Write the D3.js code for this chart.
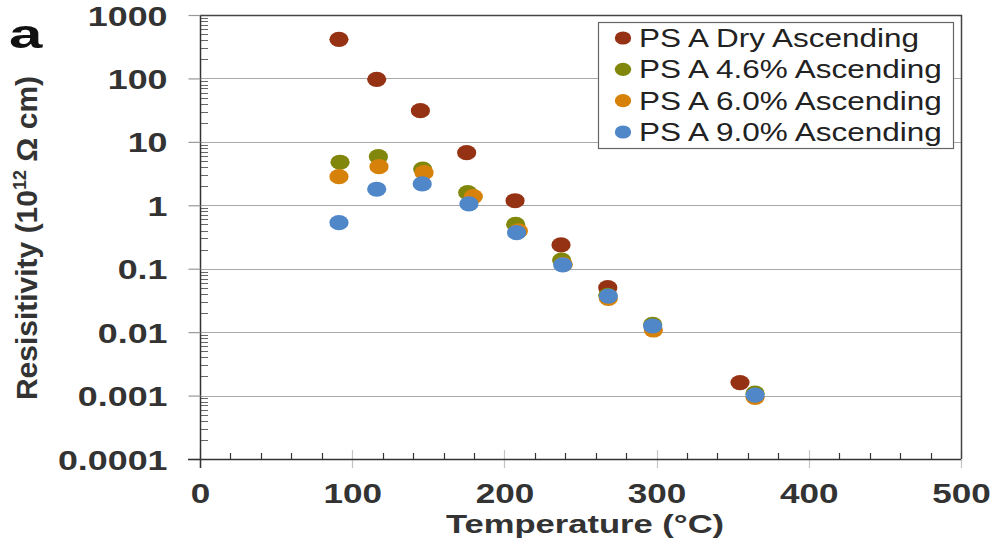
<!DOCTYPE html>
<html><head><meta charset="utf-8">
<script src="https://cdn.jsdelivr.net/npm/d3@7"></script>
<style>body{margin:0;background:#fff}svg{display:block}</style>
</head><body>
<svg id="c" width="995" height="550"></svg>
<script>
// ---- data ----
const seriesNames = ["PS A Dry Ascending","PS A 4.6% Ascending","PS A 6.0% Ascending","PS A 9.0% Ascending"];
const tempDry = [91.3,116.1,144.8,175.2,207,237.2,267.9,354.8];
const resDry  = [414,96.9,31,6.75,1.18,0.237,0.0503,0.0016];
const temp46  = [92,117.2,146.3,175.9,207.4,237.6,267.9,297.4,364.7];
const res46   = [4.77,5.84,3.73,1.58,0.50,0.137,0.038,0.0133,0.00109];
const temp60  = [91.3,117.6,147.2,179.6,209.2,238.7,268.3,297.9,364.7];
const res60   = [2.83,4.06,3.27,1.37,0.394,0.117,0.034,0.0108,0.00094];
const temp90  = [91.3,116.1,146,176.7,208,238.3,268.3,297.4,364.7];
const res90   = [0.532,1.79,2.17,1.05,0.37,0.115,0.037,0.0125,0.00102];
const xTicks = [0,100,200,300,400,500];
const yTicks = [0.0001,0.001,0.01,0.1,1,10,100,1000];
const yTickLabels = ["0.0001","0.001","0.01","0.1","1","10","100","1000"];
const colors = ["#963214","#80870a","#d6820a","#5087c8"];

const series = [
  {name:seriesNames[0], t:tempDry, r:resDry, c:colors[0]},
  {name:seriesNames[1], t:temp46, r:res46, c:colors[1]},
  {name:seriesNames[2], t:temp60, r:res60, c:colors[2]},
  {name:seriesNames[3], t:temp90, r:res90, c:colors[3]}
];

const FONT = "'Liberation Sans', Arial, sans-serif";
const svg = d3.select("#c");
const X0=200, X1=961, Y0=459, Y1=15;
const x = d3.scaleLinear().domain([0,500]).range([X0,X1]);
const y = d3.scaleLog().domain([0.0001,1000]).range([Y0,Y1]);

// gridlines
svg.append("g").selectAll("line").data(yTicks.slice(1,-1)).join("line")
  .attr("x1",X0).attr("x2",X1)
  .attr("y1",d=>Math.round(y(d))+0.5).attr("y2",d=>Math.round(y(d))+0.5)
  .attr("stroke","#a8a8a8").attr("stroke-width",1.2);

// x major ticks (light, crossing axis)
svg.append("g").selectAll("line").data(xTicks).join("line")
  .attr("x1",d=>Math.round(x(d))+0.5).attr("x2",d=>Math.round(x(d))+0.5)
  .attr("y1",Y0-9).attr("y2",Y0+9).attr("stroke","#c4c4c4").attr("stroke-width",1.2);

// x minor ticks
const xMinor = d3.range(20,500,20).filter(v=>v%100!==0);
svg.append("g").selectAll("line").data(xMinor).join("line")
  .attr("x1",d=>Math.round(x(d))+0.5).attr("x2",d=>Math.round(x(d))+0.5)
  .attr("y1",Y0-6).attr("y2",Y0).attr("stroke","#333").attr("stroke-width",1.2);

// y minor ticks
const yMinor = [];
yTicks.slice(0,-1).forEach(d=>{for(let k=2;k<=9;k++) yMinor.push(d*k);});
svg.append("g").selectAll("line").data(yMinor).join("line")
  .attr("x1",X0).attr("x2",X0+8)
  .attr("y1",d=>Math.round(y(d))+0.5).attr("y2",d=>Math.round(y(d))+0.5)
  .attr("stroke","#666").attr("stroke-width",1);

// frame (top/right)
svg.append("path").attr("d",`M${X0},${Y1+0.5}H${X1+0.5}V${Y0}`)
  .attr("fill","none").attr("stroke","#444").attr("stroke-width",1.5);

// y axis
const yAxis = d3.axisLeft(y).tickValues(yTicks).tickFormat((d,i)=>yTickLabels[i]).tickSize(12).tickPadding(0);
const gy = svg.append("g").attr("transform",`translate(${X0+0.5},0)`).call(yAxis);
gy.select(".domain").attr("stroke","#333").attr("stroke-width",1.5).attr("d",`M0,${Y1}V${Y0+9}`);
gy.selectAll(".tick line").attr("stroke","#999").attr("stroke-width",1.2);
gy.selectAll(".tick text").attr("x",null).attr("dy",null).attr("y",null)
  .attr("transform","translate(-33,10) scale(1.28,1)")
  .attr("font-family",FONT).attr("font-size",28).attr("font-weight","bold").attr("fill","#333").attr("text-anchor","end");

// x axis
const xAxis = d3.axisBottom(x).tickValues(xTicks).tickFormat(d3.format("d")).tickSize(0).tickPadding(0);
const gx = svg.append("g").attr("transform",`translate(0,${Y0+0.5})`).call(xAxis);
gx.select(".domain").attr("stroke","#333").attr("stroke-width",1.5).attr("d",`M${X0-12},0H${X1}`);
gx.selectAll(".tick text").attr("y",null).attr("dy",null)
  .attr("transform","translate(0,43.5) scale(1.3,1)")
  .attr("font-family",FONT).attr("font-size",27).attr("font-weight","bold").attr("fill","#333").attr("text-anchor","middle");

// points
series.forEach(s=>{
  svg.append("g").selectAll("ellipse").data(s.t.map((t,i)=>[t,s.r[i]])).join("ellipse")
    .attr("cx",d=>x(d[0])).attr("cy",d=>y(d[1])).attr("rx",9.6).attr("ry",7.6).attr("fill",s.c);
});

// titles
svg.append("text").attr("transform","translate(585,533) scale(1.33,1)").attr("text-anchor","middle")
  .attr("font-family",FONT).attr("font-size",26).attr("font-weight","bold").attr("fill","#333")
  .text("Temperature (°C)");

const yt = svg.append("text").attr("transform","translate(37,238) rotate(-90)").attr("text-anchor","middle")
  .attr("font-family",FONT).attr("font-size",30).attr("font-weight","bold").attr("fill","#333");
yt.append("tspan").text("Resisitivity (10");
yt.append("tspan").attr("font-size",18).attr("dy",-11).text("12");
yt.append("tspan").attr("dy",11).text(" Ω cm)");

svg.append("text").attr("transform","translate(9,48) scale(1.5,1)")
  .attr("font-family",FONT).attr("font-size",40).attr("font-weight","bold").attr("fill","#111").text("a");

// legend
const lg = svg.append("g");
lg.append("rect").attr("x",598.5).attr("y",22.5).attr("width",355).attr("height",126)
  .attr("fill","#fff").attr("stroke","#666").attr("stroke-width",1.2);
const rowY = d3.scaleLinear().domain([0,3]).range([38,132]);
series.forEach((s,i)=>{
  lg.append("ellipse").attr("cx",623).attr("cy",rowY(i)).attr("rx",8.2).attr("ry",6.6).attr("fill",s.c);
  lg.append("text").attr("transform",`translate(639,${rowY(i)+9}) scale(1.26,1)`)
    .attr("font-family",FONT).attr("font-size",25).attr("fill","#222").text(s.name);
});
</script>
</body></html>
